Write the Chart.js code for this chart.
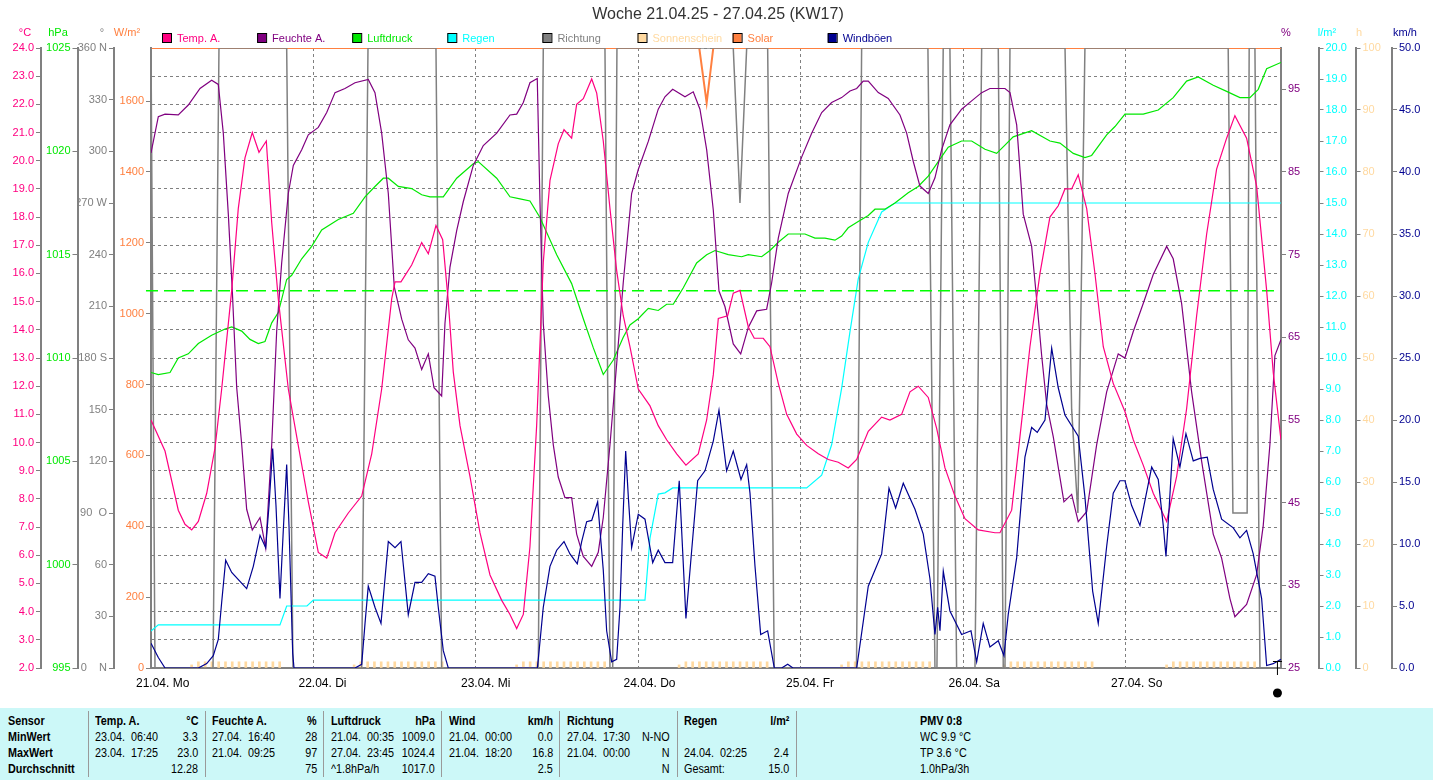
<!DOCTYPE html>
<html>
<head>
<meta charset="utf-8">
<title>Woche 21.04.25 - 27.04.25 (KW17)</title>
<script src="https://cdn.jsdelivr.net/npm/chart.js@4.4.0/dist/chart.umd.min.js"></script>
<style>
  html, body { margin: 0; padding: 0; background: #fff; }
  #wrap { position: relative; width: 1433px; height: 780px; overflow: hidden; }
  #chartBox { position: absolute; left: 0; top: 0; width: 1433px; height: 700px; }
  #stats { position: absolute; left: 0; top: 708px; width: 1433px; height: 72px; background: #ccf8f8;
           font-family: "Liberation Sans", Arial, sans-serif; font-size: 12px; color: #000; }
  #stats .c { position: absolute; white-space: pre; line-height: 16px; transform: scaleX(0.9); transform-origin: left center; }
  #stats .r { text-align: right; transform-origin: right center; }
  #stats .sep { position: absolute; top: 3px; width: 1px; height: 66px; background: #9a9a9a; }
  #stats .b { font-weight: bold; }
</style>
</head>
<body>
<div id="wrap">
  <div id="chartBox"><canvas id="weekChart"></canvas></div>
  <div id="stats"></div>
</div>
<script>
// time axis: hours since 21.04. 00:00
const HOURS_MAX = 166.9;
const dayHours = [0, 24, 48, 72, 96, 120, 144];
const dayLabels = ['21.04. Mo', '22.04. Di', '23.04. Mi', '24.04. Do', '25.04. Fr', '26.04. Sa', '27.04. So'];

// [hour, value] pairs
const tempSeries = [
  [0,10.8],[2.07,9.7],[4.03,7.6],[5.02,7.1],[6.01,6.9],[6.99,7.2],[8.23,8.2],[9.45,9.8],[10.44,11.9],[11.92,15.4],
  [12.89,18.3],[13.88,20.1],[14.96,21.0],[15.95,20.3],[17.03,20.7],[17.83,17.8],[18.8,15.1],[20.28,11.9],[21.75,9.9],[23.23,7.9],
  [24.71,6.1],[25.95,5.9],[27.18,6.8],[29.14,7.5],[31.12,8.1],[32.6,9.6],[34.07,11.9],[35.55,15.1],[36.04,15.7],[36.92,15.7],
  [38.5,16.3],[39.98,17.1],[40.96,16.7],[42.09,17.7],[43.08,17.2],[43.91,15.0],[44.65,12.5],[45.64,10.6],[47.11,8.8],
  [48.59,6.8],[50.07,5.3],[51.8,4.4],[53.02,3.9],[54.01,3.4],[54.99,3.9],[55.97,6.3],[56.96,10.6],[57.94,16.4],[58.93,19.3],
  [60.15,20.6],[61,21.1],[62.13,20.8],[62.87,22.0],[63.85,22.2],[65.09,22.9],[65.83,22.4],[66.8,20.7],[67.79,18.3],[68.78,16.1],
  [69.75,14.5],[70.74,13.4],[71.97,11.9],[73.7,11.3],[74.92,10.6],[76.16,10.1],[77.64,9.6],[79.01,9.2],[80.83,9.6],[82.07,10.8],
  [83.05,12.4],[83.79,14.4],[85.17,14.5],[86,15.3],[86.99,15.4],[88.22,14.1],[89.1,13.7],[90.43,13.7],[91.42,13.4],[92.65,12.1],
  [93.89,11.0],[95.37,10.3],[96.84,9.9],[98.56,9.6],[100.03,9.4],[101.51,9.3],[102.98,9.1],[104.23,9.4],[105.94,10.4],[107.92,10.9],
  [109.14,10.8],[110.87,11.0],[112.1,11.8],[113.32,12.0],[114.8,11.6],[116.04,10.5],[117.27,9.1],[118.74,8.1],[120.22,7.3],[122.18,6.9],
  [124.65,6.8],[125.39,6.8],[127.12,7.6],[128.34,10.2],[129.82,13.4],[131.3,16.0],[132.77,18.0],[134,18.4],[134.99,19.0],[135.98,19.0],
  [136.95,19.5],[138.2,18.3],[139.42,16.0],[140.65,13.4],[142.12,12.1],[143.85,11.1],[145.08,10.1],[146.55,9.2],[148.03,8.2],[150.01,7.2],
  [151.49,8.8],[152.96,11.2],[154.44,14.5],[155.92,17.4],[157.39,19.7],[158.87,20.8],[160.09,21.6],[161.82,20.8],[163.3,19.1],[164.78,15.4],
  [165.75,12.5],[166.89,10.1]
];

const humSeries = [
  [0,87.3],[1.08,91.7],[2.07,92.0],[4.03,91.9],[5.51,93.1],[7.24,95.1],[8.96,96.1],[9.94,95.6],[10.68,89.7],[11.42,79.9],
  [12.01,70.6],[12.66,58.9],[13.4,52.0],[14.13,44.2],[14.96,41.7],[16.1,43.2],[16.94,39.5],[17.83,52.0],[18.56,65.7],[19.3,74.0],
  [20.28,82.4],[21.02,85.8],[22.26,87.7],[23.23,89.5],[24.71,90.4],[25.95,92.2],[27.18,94.6],[28.65,95.1],[30.13,95.8],[32.09,96.2],
  [33.08,94.6],[34.07,89.7],[35.05,82.4],[35.93,71.1],[37.03,67.2],[38,64.7],[38.99,63.7],[39.98,61.1],[40.96,63.0],[41.8,58.9],
  [42.93,57.9],[43.42,66.7],[44.16,73.5],[45.15,77.9],[46.12,81.4],[47.6,85.8],[49.08,88.2],[51.06,89.7],[53.02,91.9],[54.01,92.0],
  [54.99,93.4],[55.97,95.8],[57.05,96.3],[57.45,81.4],[57.94,66.7],[58.68,57.9],[59.42,52.0],[60.15,48.1],[61.14,45.6],[62.13,45.6],
  [62.87,41.2],[63.85,38.5],[65.09,37.3],[66.06,39.0],[66.8,43.2],[67.79,52.0],[68.78,61.8],[69.75,71.6],[70.99,82.4],[71.97,85.3],
  [73.45,88.7],[74.92,92.6],[75.91,94.1],[77.05,95.0],[78.87,94.1],[80.09,94.7],[81.08,92.6],[82.07,87.7],[83.05,80.4],[83.89,70.6],
  [84.78,68.7],[86,64.2],[87.1,63.0],[88.22,66.2],[89.46,68.2],[90.93,68.4],[91.67,71.6],[92.65,77.0],[94.12,82.4],[96.1,86.8],
  [97.58,89.7],[99.06,92.2],[100.53,93.4],[102.01,94.0],[103.24,94.8],[104.23,95.1],[105.2,96.0],[105.94,96.0],[107.42,94.6],[108.89,93.9],
  [110.62,91.9],[111.61,89.7],[112.58,86.3],[113.57,83.3],[114.8,82.4],[115.79,84.3],[116.78,87.7],[118,90.7],[119.73,92.6],[121.21,93.6],
  [122.69,94.6],[123.91,95.1],[126.13,95.1],[126.87,94.6],[127.86,90.7],[128.83,79.9],[130.07,76.0],[130.81,69.6],[131.55,62.8],[132.29,56.9],
  [133.26,53.0],[134.84,45.1],[135.98,46.0],[136.95,42.7],[138.2,43.9],[139.67,52.0],[141.15,58.4],[142.86,63.0],[143.85,62.5],[145.08,65.7],
  [146.55,69.1],[148.03,72.6],[150.01,76.0],[150.98,74.5],[152.22,69.1],[153.7,58.4],[155.18,50.0],[156.89,41.2],[158.13,38.3],[159.36,33.4],
  [160.09,31.2],[161.82,32.7],[163.3,36.3],[164.27,42.2],[165.26,52.0],[166,62.8],[166.89,64.7]
];

const pressSeries = [
  [0,1009.3],[1.08,1009.2],[2.81,1009.3],[4.03,1010.0],[5.51,1010.2],[6.99,1010.7],[8.96,1011.1],[10.93,1011.4],[11.92,1011.5],[13.4,1011.3],
  [14.62,1010.9],[15.85,1010.7],[16.84,1010.8],[17.83,1011.7],[18.8,1012.2],[20.04,1013.8],[20.78,1014.0],[22.26,1014.8],[23.73,1015.4],[25.21,1016.2],
  [27.66,1016.7],[29.88,1017.0],[31.61,1017.8],[33.08,1018.3],[34.31,1018.7],[35.05,1018.7],[36.52,1018.3],[38.5,1018.2],[39.98,1017.9],[41.21,1017.8],
  [43.17,1017.8],[45.15,1018.7],[47.6,1019.4],[48.34,1019.5],[51.06,1018.7],[53.02,1017.8],[54.5,1017.7],[55.97,1017.6],[57.45,1016.8],[59.92,1015.0],
  [62.13,1013.6],[63.85,1011.9],[65.32,1010.5],[66.8,1009.2],[68.28,1009.9],[69.75,1011.0],[70.74,1011.6],[71.97,1011.9],[73.45,1012.4],[74.92,1012.3],
  [76.16,1012.6],[77.14,1012.6],[78.62,1013.4],[80.59,1014.6],[82.07,1015.0],[83.3,1015.2],[85.26,1015.0],[87.24,1014.9],[88.22,1015.0],[90.19,1014.9],
  [91.42,1015.2],[92.65,1015.6],[94.12,1016.0],[96.59,1016.0],[98.07,1015.8],[99.54,1015.8],[101.02,1015.7],[102.01,1015.9],[102.98,1016.3],[104.46,1016.6],
  [105.94,1016.9],[106.93,1017.2],[108.4,1017.2],[109.88,1017.5],[111.84,1018.0],[113.32,1018.3],[114.8,1018.8],[116.28,1019.5],[117.75,1020.2],[119.73,1020.5],
  [121.21,1020.5],[123.18,1020.1],[124.9,1019.9],[126.13,1020.3],[127.35,1020.7],[130.07,1021.0],[132.77,1020.5],[134.25,1020.4],[136.22,1019.9],[137.94,1019.7],
  [138.93,1019.8],[141.15,1020.8],[142.38,1021.2],[143.85,1021.8],[146.55,1021.8],[148.77,1022.0],[150.98,1022.6],[152.96,1023.4],[154.67,1023.6],[156.89,1023.2],
  [158.87,1022.9],[160.83,1022.6],[162.31,1022.6],[163.54,1023.0],[164.78,1024.0],[166.89,1024.3]
];
const pressRef = 1013.25;

const rainSeries = [
  [0,1.19],[1.08,1.39],[19.05,1.39],[20.04,2.0],[23.04,2.0],[23.97,2.19],[72.96,2.19],[73.7,4.19],[74.92,5.61],[75.91,5.65],
  [77.05,5.81],[96.84,5.81],[99.06,6.22],[100.53,7.2],[102.01,9.03],[103.24,10.85],[104.46,12.55],[105.94,13.73],[107.92,14.71],[109.88,15.0],
  [166.89,15.0]
];

const gustSeries = [
  [0,2.0],[1.08,0.85],[2.07,0],[6.99,0],[8.23,0.36],[9.2,1.0],[9.94,2.3],[10.44,5.3],[11.03,8.7],[11.92,7.7],
  [14.13,6.4],[15.11,8.2],[16.1,10.7],[16.94,9.7],[17.43,13.1],[17.97,17.7],[18.46,13.1],[19.05,5.6],[19.54,11.1],[20.04,16.4],
  [20.38,11.5],[20.93,1.2],[21.12,0],[30.13,0],[31.12,0.3],[31.61,3.6],[32.09,6.6],[33.08,4.9],[33.97,3.6],[35.05,10.2],
  [36.04,9.7],[36.92,10.2],[38,4.3],[38.99,6.9],[39.98,6.9],[40.96,7.6],[41.94,7.4],[42.43,4.9],[43.17,1.4],[43.91,0],
  [57.05,0],[57.2,0.7],[57.94,4.9],[58.93,8.2],[59.92,9.5],[61,10.2],[61.88,9.2],[62.96,8.4],[63.61,10.2],[64.35,11.8],
  [65.09,11.9],[65.97,13.4],[66.8,7.9],[67.3,3.0],[68.04,0.5],[68.78,0.7],[69.27,4.9],[69.67,11.5],[70.11,17.5],[70.5,13.8],
  [70.99,9.7],[71.97,12.4],[72.96,12.0],[74.1,8.5],[74.92,9.5],[75.91,8.5],[77.05,8.5],[78.02,15.1],[79.01,4.0],[79.86,9.5],
  [80.74,15.1],[81.82,15.9],[83.05,18.3],[83.89,20.8],[85.02,15.9],[86,17.5],[87.14,15.2],[87.98,16.4],[88.47,14.1],[89.21,8.2],
  [90.05,2.7],[91.08,3.0],[92.06,0],[93.15,0],[94.04,0.3],[94.82,0],[104.23,0],[105.94,6.6],[107.92,9.2],[109,14.5],
  [109.98,12.9],[111.11,14.9],[112.84,12.8],[114.06,10.8],[115.05,7.2],[115.79,2.7],[116.19,4.9],[116.53,3.0],[117.02,7.8],[118,4.6],
  [119.73,2.7],[121.11,3.0],[121.95,0.5],[122.92,3.6],[123.91,1.7],[125.14,2.2],[125.98,1.0],[126.61,4.3],[127.86,8.9],[129.08,17.0],
  [130.07,19.4],[130.9,19.0],[132.04,20.0],[133.03,25.8],[134,22.6],[134.99,20.4],[136.95,18.7],[137.94,13.8],[139.08,6.2],[139.91,3.6],
  [141.15,9.8],[142.12,14.1],[143.11,15.1],[143.85,15.1],[144.84,13.1],[146.07,11.5],[147.8,16.2],[148.77,15.2],[149.51,11.5],[149.91,9.0],
  [150.4,13.1],[150.98,18.5],[151.97,16.2],[152.86,18.9],[153.94,16.7],[154.93,16.9],[156.01,17.0],[156.89,14.4],[158.13,12.0],[159.85,11.3],
  [160.83,10.5],[161.82,11.1],[162.8,9.2],[164.04,5.6],[164.78,0.2],[165.75,0.35],[166.89,0.7]
];

const dirSeries = [
  [0,360],[0.59,0],[9.16,0],[10.04,360],[20.04,360],[20.97,0],[31.12,0],[32.05,360],[42.09,360],[42.93,0],
  [57.2,0],[57.94,360],[67.05,360],[67.79,0],[68.19,0],[68.82,360],[86,360],[86.99,270],[87.98,360],[91.08,360],
  [92.06,0],[104.2,0],[104.96,360],[114.75,360],[115.79,0],[116.08,0],[117.01,360],[118,360],[118.99,0],[121.7,0],
  [122.69,360],[125.14,360],[125.88,0],[126.13,0],[126.87,360],[135,360],[135.98,150],[136.9,90],[137.94,360],[159.1,360],
  [159.8,90],[161.9,90],[162.2,360],[163.05,360],[163.79,0],[166.89,0]
];

const solarSeries = [[0,1750],[80.98,1750],[82.07,1595],[83.05,1750],[166.89,1750]];

// sunshine bars: one per hour from 06:00 to 19:00, one row per day
const sunFirstHour = 6;
const sunByDay = [
  [0.5,1,1,1,1,1,1,1,1,1,1,1,1,1],
  [0.5,1,1,1,1,1,1,1,1,1,1,1,1,1],
  [0.5,1,1,1,1,1,1,1,1,1,1,1,1,1],
  [0.5,1,1,1,1,1,1,1,1,1,1,1,1,1],
  [0.5,1,1,1,1,1,1,1,1,1,1,1,1,1],
  [0.5,1,1,1,1,1,1,1,1,1,1,1,1,1],
  [0.5,1,1,1,1,1,1,1,1,1,1,1,1,1]
];

// tick values and labels
const tempTicks = [2,3,4,5,6,7,8,9,10,11,12,13,14,15,16,17,18,19,20,21,22,23,24];
const pressTicks = [995,1000,1005,1010,1015,1020,1025];
const dirTicks = [0,30,60,90,120,150,180,210,240,270,300,330,360];
const dirLabels = ['0    N','30','60','90  O','120','150','180 S','210','240','270 W','300','330','360 N'];
const solarTicks = [0,200,400,600,800,1000,1200,1400,1600];
const humTicks = [25,35,45,55,65,75,85,95];
const rainTicks = [0,1,2,3,4,5,6,7,8,9,10,11,12,13,14,15,16,17,18,19,20];
const sunTicks = [0,10,20,30,40,50,60,70,80,90,100];
const gustTicks = [0,5,10,15,20,25,30,35,40,45,50];

const C = {
  temp: '#ff0080', hum: '#800080', press: '#00e800', rain: '#00ffff', dir: '#808080',
  sun: '#ffd9a0', solar: '#ff8040', gust: '#000090', grid: '#808080'
};
const FONT = '"Liberation Sans", Arial, sans-serif';

const legendItems = [
  { label: 'Temp. A.', color: C.temp },
  { label: 'Feuchte A.', color: C.hum },
  { label: 'Luftdruck', color: C.press },
  { label: 'Regen', color: C.rain },
  { label: 'Richtung', color: C.dir },
  { label: 'Sonnenschein', color: C.sun },
  { label: 'Solar', color: C.solar },
  { label: 'Windböen', color: C.gust }
];
const axisTitles = [
  { text: '°C', color: C.temp, x: 25 }, { text: 'hPa', color: C.press, x: 58 },
  { text: '°', color: C.dir, x: 102 }, { text: 'W/m²', color: C.solar, x: 127 },
  { text: '%', color: C.hum, x: 1286 }, { text: 'l/m²', color: C.rain, x: 1327 },
  { text: 'h', color: C.sun, x: 1359 }, { text: 'km/h', color: C.gust, x: 1405 }
];

function toPoints(series) {
  return series.map(p => ({ x: p[0], y: p[1] }));
}

function sunPoints() {
  const pts = [];
  sunByDay.forEach((vals, d) => {
    vals.forEach((v, i) => pts.push({ x: dayHours[d] + sunFirstHour + i, y: v }));
  });
  return pts;
}

function yAxis(position, min, max, ticks, width, color, fmt) {
  return {
    type: 'linear', position, min, max,
    afterBuildTicks: s => { s.ticks = ticks.map(v => ({ value: v })); },
    afterFit: s => { s.width = width; },
    ticks: { color, font: { family: FONT, size: 11 }, padding: 2, autoSkip: false, callback: fmt },
    grid: { drawOnChartArea: false, color: C.grid, tickLength: 5, tickWidth: 1 },
    border: { color: C.grid, width: 2 }
  };
}

function lineSet(label, series, color, axis, width) {
  return {
    type: 'line', label, data: toPoints(series), yAxisID: axis,
    borderColor: color, backgroundColor: color, borderWidth: width || 1.2,
    pointRadius: 0, tension: 0, fill: false
  };
}

const overlay = {
  id: 'overlay',
  afterDraw(chart) {
    const ctx = chart.ctx;
    const xs = chart.scales.x;
    ctx.save();
    ctx.textBaseline = 'middle';

    ctx.font = '16px ' + FONT;
    ctx.fillStyle = '#333';
    ctx.textAlign = 'center';
    ctx.fillText('Woche 21.04.25 - 27.04.25 (KW17)', 718, 15);

    ctx.font = '11px ' + FONT;
    legendItems.forEach((it, i) => {
      const x = 162 + i * 95.1;
      ctx.fillStyle = it.color;
      ctx.fillRect(x, 33.5, 9, 9);
      ctx.strokeStyle = '#000';
      ctx.lineWidth = 1;
      ctx.strokeRect(x + 0.5, 33.5, 9, 9);
      ctx.textAlign = 'left';
      ctx.fillText(it.label, x + 15, 38.5);
    });

    ctx.textAlign = 'center';
    axisTitles.forEach(t => {
      ctx.fillStyle = t.color;
      ctx.fillText(t.text, t.x, 33);
    });

    ctx.font = '12px ' + FONT;
    ctx.fillStyle = '#000';
    ctx.textAlign = 'left';
    dayLabels.forEach((lab, i) => {
      ctx.fillText(lab, xs.getPixelForValue(dayHours[i]) - 15, 684);
    });

    // current-time marker under the plot
    const mx = xs.getPixelForValue(166.3);
    ctx.strokeStyle = '#000';
    ctx.beginPath();
    ctx.moveTo(mx - 4, 661.5); ctx.lineTo(mx + 5, 661.5);
    ctx.moveTo(mx + 0.5, 661.5); ctx.lineTo(mx + 0.5, 675);
    ctx.stroke();
    ctx.beginPath();
    ctx.arc(mx + 0.5, 693, 4.5, 0, Math.PI * 2);
    ctx.fill();
    ctx.restore();
  }
};

new Chart(document.getElementById('weekChart'), {
  type: 'line',
  data: {
    datasets: [
      lineSet('Windböen', gustSeries, C.gust, 'gust'),
      lineSet('Temp. A.', tempSeries, C.temp, 'temp'),
      lineSet('Feuchte A.', humSeries, C.hum, 'hum'),
      lineSet('Luftdruck', pressSeries, C.press, 'press'),
      Object.assign(lineSet('Luftdruck 1013', [[-0.74, pressRef], [166.4, pressRef]], '#00ff00', 'press', 1.5),
        { borderDash: [12, 6], clip: false }),
      lineSet('Regen', rainSeries, C.rain, 'rain'),
      lineSet('Richtung', dirSeries, C.dir, 'dir', 1.5),
      {
        type: 'bar', label: 'Sonnenschein', data: sunPoints(), yAxisID: 'sun',
        backgroundColor: C.sun, barThickness: 2, grouped: false
      },
      lineSet('Solar', solarSeries, C.solar, 'solar', 2)
    ]
  },
  options: {
    responsive: true, maintainAspectRatio: false, animation: false, events: [],
    layout: { padding: { top: 48, left: 0, right: 0, bottom: 0 } },
    plugins: { legend: { display: false }, tooltip: { enabled: false } },
    scales: {
      x: {
        type: 'linear', position: 'bottom', min: 0, max: HOURS_MAX, offset: false,
        afterBuildTicks: s => { s.ticks = dayHours.map(v => ({ value: v })); },
        afterFit: s => { s.height = 32; },
        ticks: { display: false },
        grid: { color: C.grid, drawTicks: false, offset: false },
        border: { color: C.grid, width: 2, dash: [3, 3] }
      },
      solar: yAxis('left', 0, 1750, solarTicks, 37, C.solar, v => String(v)),
      dir: yAxis('left', 0, 360, dirTicks, 36.5, C.dir, v => dirLabels[dirTicks.indexOf(v)]),
      press: yAxis('left', 995, 1025, pressTicks, 36.5, C.press, v => String(v)),
      temp: Object.assign(yAxis('left', 2, 24, tempTicks, 41, C.temp, v => v.toFixed(1)), {
        grid: { drawOnChartArea: true, color: C.grid, tickLength: 5, tickWidth: 1 },
        border: { color: C.grid, width: 2, dash: [3, 3] }
      }),
      hum: yAxis('right', 25, 100, humTicks, 37.5, C.hum, v => String(v)),
      rain: yAxis('right', 0, 20, rainTicks, 37, C.rain, v => v.toFixed(1)),
      sun: yAxis('right', 0, 100, sunTicks, 36.5, C.sun, v => String(v)),
      gust: yAxis('right', 0, 50, gustTicks, 41, C.gust, v => v.toFixed(1))
    }
  },
  plugins: [overlay]
});

// statistics table under the chart
const statSeparators = [88, 205, 323, 441, 559, 677, 796];
const statRowTops = [5, 21, 37, 53];
const statSensor = ['Sensor', 'MinWert', 'MaxWert', 'Durchschnitt'];
const statCols = [
  { l: 95, r: 198, head: ['Temp. A.', '°C'], rows: [['23.04.  06:40', '3.3'], ['23.04.  17:25', '23.0'], ['', '12.28']] },
  { l: 212, r: 317, head: ['Feuchte A.', '%'], rows: [['27.04.  16:40', '28'], ['21.04.  09:25', '97'], ['', '75']] },
  { l: 331, r: 435, head: ['Luftdruck', 'hPa'], rows: [['21.04.  00:35', '1009.0'], ['27.04.  23:45', '1024.4'], ['^1.8hPa/h', '1017.0']] },
  { l: 449, r: 553, head: ['Wind', 'km/h'], rows: [['21.04.  00:00', '0.0'], ['21.04.  18:20', '16.8'], ['', '2.5']] },
  { l: 567, r: 670, head: ['Richtung', ''], rows: [['27.04.  17:30', 'N-NO'], ['21.04.  00:00', 'N'], ['', 'N']] },
  { l: 684, r: 789, head: ['Regen', 'l/m²'], rows: [['', ''], ['24.04.  02:25', '2.4'], ['Gesamt:', '15.0']] }
];
const statPmv = ['PMV 0:8', 'WC 9.9 °C', 'TP 3.6 °C', '1.0hPa/3h'];

function addCell(box, text, left, top, opts) {
  const el = document.createElement('div');
  el.className = 'c' + (opts && opts.bold ? ' b' : '') + (opts && opts.right ? ' r' : '');
  el.textContent = text;
  el.style.top = top + 'px';
  if (opts && opts.right) {
    el.style.right = (1433 - left) + 'px';
  } else {
    el.style.left = left + 'px';
  }
  box.appendChild(el);
}

const stats = document.getElementById('stats');
statSeparators.forEach(x => {
  const s = document.createElement('div');
  s.className = 'sep';
  s.style.left = x + 'px';
  stats.appendChild(s);
});
statSensor.forEach((t, i) => addCell(stats, t, 8, statRowTops[i], { bold: true }));
statCols.forEach(col => {
  addCell(stats, col.head[0], col.l, statRowTops[0], { bold: true });
  addCell(stats, col.head[1], col.r, statRowTops[0], { bold: true, right: true });
  col.rows.forEach((row, i) => {
    addCell(stats, row[0], col.l, statRowTops[i + 1]);
    addCell(stats, row[1], col.r, statRowTops[i + 1], { right: true });
  });
});
statPmv.forEach((t, i) => addCell(stats, t, 920, statRowTops[i], { bold: i === 0 }));
</script>
</body>
</html>
